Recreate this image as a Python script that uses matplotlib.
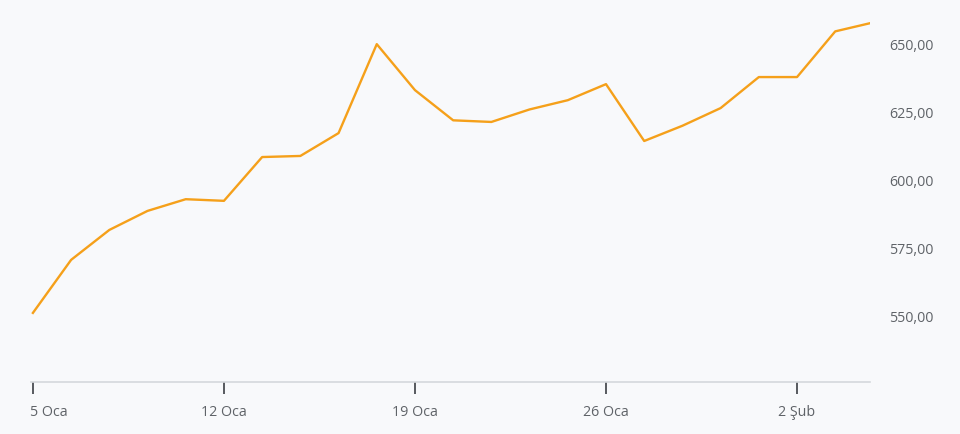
import matplotlib.pyplot as plt
import matplotlib.transforms as mtransforms

# daily closes, trading days only (5 Jan - 4 Feb)
dates = ["5 Oca", "6 Oca", "7 Oca", "8 Oca", "9 Oca",
         "12 Oca", "13 Oca", "14 Oca", "15 Oca", "16 Oca",
         "19 Oca", "20 Oca", "21 Oca", "22 Oca", "23 Oca",
         "26 Oca", "27 Oca", "28 Oca", "29 Oca", "30 Oca",
         "2 Şub", "3 Şub", "4 Şub"]
prices = [550.8, 570.3, 581.3, 588.3, 592.6,
          592.0, 608.1, 608.5, 616.9, 649.6,
          632.7, 621.6, 621.0, 625.6, 629.0,
          634.9, 614.0, 619.6, 626.1, 637.5,
          637.5, 654.3, 657.6]
tick_labels = ["5 Oca", "12 Oca", "19 Oca", "26 Oca", "2 Şub"]
y_ticks = [550, 575, 600, 625, 650]

bg = "#f8f9fb"
txt = "#5f6368"

plt.rcParams['font.family'] = ['Open Sans', 'DejaVu Sans']

fig = plt.figure(figsize=(9.6, 4.35), dpi=100, facecolor=bg)
ax = fig.add_axes([31 / 960, 52 / 435, 839 / 960, 383 / 435])
ax.set_facecolor(bg)

x = list(range(len(dates)))
ax.plot(x, prices, color="#f5a01a", linewidth=1.7)

ax.set_xlim(-0.05, 21.91)
ax.set_ylim(525.4, 666.2)

ax.set_xticks([dates.index(d) for d in tick_labels])
ax.set_xticklabels(tick_labels)
ax.set_yticks(y_ticks)
ax.set_yticklabels([f"{v:.2f}".replace(".", ",") for v in y_ticks])

ax.yaxis.tick_right()
ax.tick_params(axis="y", length=0, pad=14, labelsize=10.3, labelcolor=txt)
ax.tick_params(axis="x", length=8.5, width=1.3, color="#4a4d52", pad=7,
               labelsize=10.3, labelcolor=txt)

# first label is pushed right so it stays inside the chart
first = ax.get_xticklabels()[0]
first.set_ha("left")
first.set_transform(first.get_transform() +
                    mtransforms.ScaledTranslation(-3 / 100, 0, fig.dpi_scale_trans))

for s in ["top", "left", "right"]:
    ax.spines[s].set_visible(False)
ax.spines["bottom"].set_color("#d5d8dc")
ax.spines["bottom"].set_linewidth(1.2)

fig.savefig("out.png", dpi=100, facecolor=bg)
